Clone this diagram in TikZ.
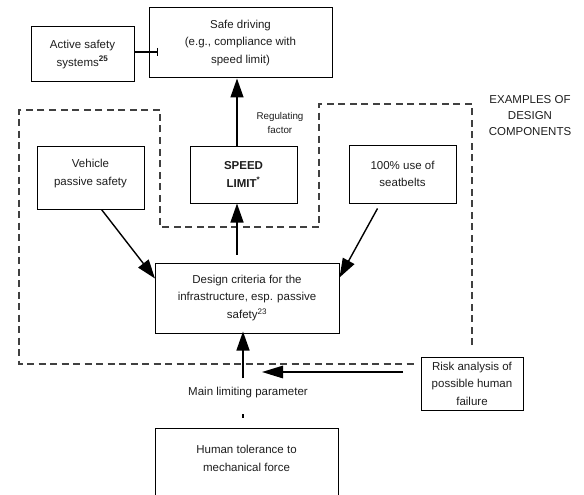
\documentclass[tikz,border=0pt]{standalone}
\usepackage{fontspec}
\setmainfont{Liberation Sans}
\usetikzlibrary{arrows.meta,calc}
\definecolor{txt}{HTML}{1E1E1E}
\definecolor{dashc}{HTML}{404040}
\begin{document}
\begin{tikzpicture}[x=1pt,y=-1pt,
  font=\fontsize{11.5}{17.5}\selectfont,
  box/.style={draw, line width=1pt, align=center, inner sep=0pt, text=txt},
  lbl/.style={align=center, inner sep=0pt, text=txt, anchor=north},
  arr/.style={line width=1.4pt, -{Triangle[length=19pt,width=13pt]}},
  harr/.style={line width=1.4pt, -{Triangle[length=21pt,width=12.5pt]}},
  bararr/.style={line width=1.1pt, -{Bar[width=8pt,line width=1.1pt]}},
  dashbox/.style={draw=dashc, line width=1.1pt, dash pattern=on 7pt off 4.5pt},
  plain/.style={text=txt, align=center, inner sep=0pt}]
\useasboundingbox (0,0) rectangle (584,495);
\clip (0,0) rectangle (584,495);
\fill[white] (0,0) rectangle (584,495);

% dashed region of design components
\draw[dashbox] (472,345) -- (472,104) -- (319,104) -- (319,227) -- (160,227)
  -- (160,110) -- (19,110) -- (19,364) -- (416,364);

% boxes
\node[box, minimum width=183pt, minimum height=70pt] (safe) at (240.5,43)
  {Safe driving\\(e.g., compliance with\\speed limit)};
\node[box, minimum width=103pt, minimum height=55pt] (active) at (82.5,54.5)
  {Active safety\\systems\textsuperscript{\textbf{25}}};
\node[box, minimum width=107pt, minimum height=57pt] (speed) at (243.5,174.5)
  {\textbf{SPEED}\\\textbf{LIMIT}\textsuperscript{\textbf{*}}};
\node[box, minimum width=107pt, minimum height=63pt,
  label={[lbl, yshift=-13.5pt]north:Vehicle\\passive safety}] (veh) at (90.5,177.5) {};
\node[box, minimum width=107pt, minimum height=58pt] (belts) at (402.5,174)
  {100\% use of\\seatbelts};
\node[box, minimum width=184pt, minimum height=70pt] (design) at (247,298)
  {Design criteria for the\\infrastructure, esp. passive\\safety\textsuperscript{23}};
\node[box, fill=white, minimum width=102pt, minimum height=53pt] (risk) at (472,383.5)
  {Risk analysis of\\possible human\\failure};
\node[box, minimum width=183pt, minimum height=92pt,
  label={[lbl, yshift=-17.5pt]north:Human tolerance to\\mechanical force}] (human) at (246.5,474) {};

% free texts
\node[plain, font=\fontsize{9.8}{14}\selectfont] (reg) at (280,123) {Regulating\\factor};
\node[plain, font=\fontsize{11.5}{16}\selectfont] (examples) at (530,116)
  {EXAMPLES OF\\DESIGN\\COMPONENTS};
\node[plain] (mlp) at (248,393) {Main limiting parameter};

% helper coordinates
\coordinate (ax) at (237,0);
\coordinate (bx) at (243,0);
\coordinate (actbar) at (158,52);
\coordinate (rstart) at (403,372);
\coordinate (rtip) at (262,372);

% connectors
\draw[bararr] (active.east |- actbar) -- (actbar);
\draw[arr] (ax |- speed.north) -- (ax |- safe.south);
\draw[arr, shorten <=8pt] (ax |- design.north) -- (ax |- speed.south);
\draw[arr] ($(veh.south west)+(65,0)$) -- ($(design.north west)+(0.5,16)$);
\draw[arr] ($(belts.south west)+(29,5)$) -- ($(design.north east)+(0,15)$);
\draw[arr, shorten <=9pt, shorten >=-2pt] (bx |- mlp.north) -- (bx |- design.south);
\draw[harr] (rstart) -- (rtip);
\draw[line width=1.4pt, shorten <=10pt, shorten >=15pt] (bx |- human.north) -- (bx |- mlp.south);
\end{tikzpicture}
\end{document}
